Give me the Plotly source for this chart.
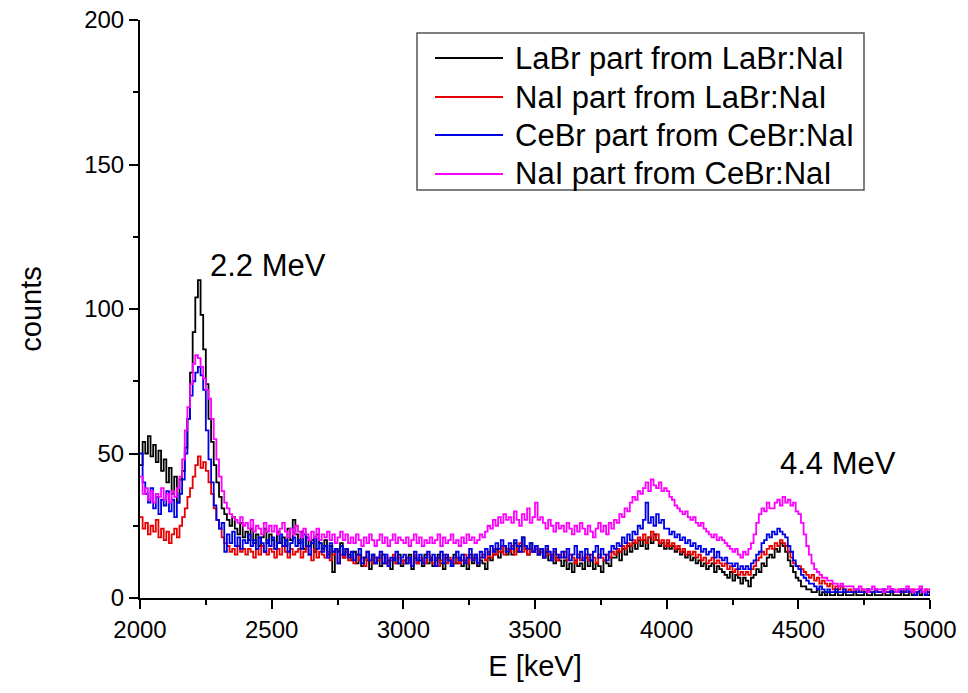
import plotly.graph_objects as go

# Energy bins (keV), 10 keV step
E_START, E_STEP = 2000, 10

labr_labrnai = [
    46, 54, 50, 56, 49, 53, 47, 51, 44, 48,
    40, 45, 36, 42, 33, 41, 44, 52, 62, 78,
    92, 104, 110, 98, 86, 74, 62, 54, 46, 40,
    35, 31, 29, 27, 25, 28, 24, 22, 26, 21,
    23, 20, 24, 19, 22, 18, 21, 24, 19, 22,
    20, 17, 23, 19, 21, 18, 24, 20, 27, 22,
    19, 23, 17, 21, 18, 20, 16, 22, 19, 17,
    20, 15, 18, 9, 17, 16, 19, 14, 17, 15,
    13, 16, 12, 15, 11, 14, 13, 10, 15, 12,
    14, 11, 15, 12, 13, 10, 14, 12, 15, 11,
    13, 12, 15, 10, 14, 12, 13, 11, 15, 12,
    14, 11, 13, 15, 12, 10, 14, 13, 11, 15,
    12, 14, 11, 13, 10, 15, 12, 14, 11, 13,
    12, 10, 14, 13, 15, 17, 14, 16, 18, 15,
    17, 15, 19, 16, 18, 21, 17, 15, 19, 16,
    18, 15, 17, 14, 16, 13, 15, 12, 14, 13,
    11, 13, 10, 12, 9, 13, 11, 12, 10, 14,
    11, 13, 10, 12, 11, 9, 13, 12, 11, 14,
    14, 16, 13, 17, 15, 18, 16, 19, 17, 20,
    18, 20, 17, 21, 19, 22, 20, 18, 19, 17,
    19, 17, 18, 16, 17, 15, 16, 14, 15, 13,
    14, 12, 13, 11, 12, 10, 11, 12, 9, 11,
    10, 9, 8, 7, 9, 6, 8, 7, 5, 7,
    6, 4, 7, 8, 10, 9, 12, 11, 14, 15,
    14, 17, 16, 19, 18, 16, 13, 11, 9, 7,
    6, 4, 4, 3, 3, 2, 2, 3, 1, 2,
    1, 2, 1, 1, 2, 1, 1, 2, 1, 1,
    1, 2, 1, 1, 1, 2, 1, 1, 2, 1,
    1, 1, 2, 1, 1, 2, 1, 1, 1, 2,
    1, 1, 2, 1, 1, 2, 1, 2, 1, 1,
    2,
]

nai_labrnai = [
    28, 24, 26, 22, 25, 23, 27, 21, 24, 20,
    23, 19, 22, 24, 21, 25, 28, 31, 35, 38,
    42, 46, 49, 45, 47, 44, 40, 36, 31, 27,
    24, 21, 19, 18, 16, 17, 15, 18, 16, 17,
    15, 17, 16, 14, 17, 15, 18, 16, 15, 17,
    16, 14, 17, 15, 18, 16, 14, 17, 15, 16,
    17, 14, 16, 18, 15, 13, 17, 14, 16, 15,
    14, 16, 13, 15, 17, 12, 15, 14, 16, 13,
    14, 12, 15, 13, 14, 11, 16, 13, 12, 14,
    13, 15, 12, 14, 11, 13, 15, 12, 14, 13,
    12, 14, 13, 11, 15, 12, 14, 13, 12, 15,
    13, 12, 14, 11, 13, 15, 12, 14, 13, 12,
    14, 12, 13, 15, 12, 14, 13, 15, 12, 14,
    15, 13, 16, 14, 17, 15, 16, 18, 15, 17,
    16, 18, 15, 17, 19, 16, 18, 15, 17, 16,
    17, 15, 16, 14, 17, 15, 14, 16, 13, 15,
    14, 16, 13, 15, 14, 12, 15, 13, 14, 15,
    13, 15, 14, 12, 15, 14, 13, 15, 14, 16,
    15, 17, 16, 18, 17, 19, 18, 20, 19, 21,
    20, 22, 19, 21, 23, 20, 22, 19, 20, 18,
    20, 18, 19, 17, 18, 16, 17, 15, 16, 15,
    16, 14, 15, 13, 14, 12, 13, 14, 12, 13,
    12, 11, 12, 10, 11, 9, 10, 8, 9, 8,
    9, 8, 10, 11, 13, 14, 16, 15, 17, 18,
    17, 19, 18, 20, 19, 18, 16, 14, 12, 11,
    11, 10, 9, 8, 7, 8, 6, 7, 5, 6,
    5, 4, 5, 3, 4, 3, 4, 3, 2, 3,
    2, 3, 2, 2, 3, 2, 3, 2, 2, 3,
    2, 2, 3, 2, 2, 3, 2, 2, 3, 2,
    3, 2, 2, 3, 2, 2, 3, 2, 3, 2,
    3,
]

cebr_cebrnai = [
    50, 40, 36, 33, 38, 31, 35, 29, 34, 32,
    37, 30, 34, 28, 33, 36, 41, 50, 62, 70,
    75, 78, 80, 77, 72, 58, 48, 40, 32, 27,
    24, 26, 16, 22, 19, 23, 18, 21, 17, 20,
    19, 22, 18, 20, 17, 21, 19, 16, 20, 18,
    21, 17, 19, 22, 18, 20, 16, 19, 21, 18,
    20, 17, 22, 18, 15, 19, 21, 17, 19, 16,
    18, 14, 19, 16, 17, 12, 18, 15, 17, 14,
    16, 13, 15, 17, 12, 14, 16, 13, 15, 12,
    14, 16, 12, 15, 11, 14, 13, 16, 12, 14,
    15, 12, 14, 11, 16, 13, 15, 12, 14, 16,
    13, 15, 11, 14, 16, 12, 15, 13, 11, 14,
    16, 13, 15, 12, 14, 17, 13, 15, 12, 16,
    14, 17, 15, 18, 16, 19, 17, 20, 18, 16,
    19, 17, 20, 18, 16, 21, 18, 17, 19, 16,
    18, 15, 17, 14, 18, 16, 13, 17, 15, 14,
    16, 14, 17, 13, 15, 18, 14, 16, 13, 17,
    15, 13, 16, 18, 14, 17, 15, 13, 16, 18,
    17, 19, 18, 21, 19, 22, 20, 23, 22, 25,
    24, 27, 33, 26, 28, 25, 29, 26, 27, 24,
    24, 22, 23, 21, 22, 20, 21, 19, 20, 18,
    19, 17, 18, 16, 17, 15, 16, 17, 14, 16,
    14, 13, 14, 12, 12, 11, 12, 10, 11, 10,
    11, 10, 12, 13, 15, 16, 19, 20, 22, 21,
    23, 22, 24, 23, 22, 21, 18, 16, 13, 11,
    10, 8, 7, 6, 5, 5, 4, 3, 4, 3,
    2, 3, 2, 2, 3, 2, 2, 3, 2, 2,
    2, 2, 3, 2, 2, 2, 3, 2, 2, 3,
    2, 2, 3, 2, 2, 3, 2, 2, 2, 3,
    2, 3, 2, 2, 1, 2, 3, 2, 1, 2,
    2,
]

nai_cebrnai = [
    42, 36, 38, 34, 37, 33, 36, 35, 38, 34,
    36, 33, 37, 35, 38, 42, 48, 58, 66, 74,
    81, 84, 83, 80, 76, 72, 69, 62, 55, 48,
    42, 37, 33, 31, 29, 28, 27, 26, 28, 25,
    26, 24, 27, 23, 25, 24, 22, 26, 23, 25,
    23, 25, 22, 24, 26, 23, 21, 24, 22, 25,
    23, 21, 24, 22, 20, 23, 21, 24, 20, 22,
    21, 23, 20, 22, 19, 21, 23, 20, 22, 19,
    21, 19, 22, 20, 18, 21, 19, 22, 20, 18,
    20, 22, 19, 21, 18, 20, 22, 19, 21, 20,
    19, 21, 18, 20, 22, 19, 21, 18, 20, 19,
    21, 19, 20, 22, 18, 21, 19, 20, 22, 19,
    20, 18, 21, 19, 22, 20, 21, 19, 20, 22,
    21, 23, 25, 24, 27, 25, 28, 26, 29, 27,
    28, 26, 30, 27, 25, 29, 27, 31, 26, 28,
    33, 27, 28, 26, 24, 27, 25, 23, 26, 24,
    25, 23, 26, 24, 22, 25, 23, 26, 24, 22,
    25, 23, 21, 24, 26, 23, 25, 22, 26, 24,
    27, 26, 29, 28, 31, 30, 33, 35, 34, 37,
    36, 38, 40, 37, 41, 39, 38, 40, 37, 38,
    37, 35, 34, 32, 31, 30, 29, 30, 28, 27,
    28, 26, 25, 26, 24, 23, 22, 21, 22, 20,
    21, 20, 19, 18, 17, 16, 17, 15, 14, 16,
    15, 17, 19, 22, 26, 29, 31, 30, 33, 31,
    31, 33, 34, 32, 35, 33, 34, 32, 33, 30,
    29, 26, 22, 18, 15, 12, 10, 9, 8, 7,
    7, 6, 6, 5, 5, 4, 5, 4, 4, 4,
    4, 3, 3, 4, 3, 3, 2, 3, 4, 3,
    3, 3, 2, 3, 4, 3, 3, 2, 3, 3,
    3, 4, 3, 2, 3, 3, 4, 2, 3, 3,
    3,
]

series_names = [
    "LaBr part from LaBr:NaI",
    "NaI part from LaBr:NaI",
    "CeBr part from CeBr:NaI",
    "NaI part from CeBr:NaI",
]
series_values = [labr_labrnai, nai_labrnai, cebr_cebrnai, nai_cebrnai]
series_colors = ["#000000", "#e60000", "#0000e6", "#ff00ff"]

x_tick_vals = [2000, 2500, 3000, 3500, 4000, 4500, 5000]
y_tick_vals = [0, 50, 100, 150, 200]

FONT = "Liberation Sans, Arial, sans-serif"
W, H = 968, 693
ML, MR, MT, MB = 140, 38, 20, 95
PW, PH = W - ML - MR, H - MT - MB


def px_x(p):
    return (p - ML) / PW


def px_y(p):
    return (H - MB - p) / PH


fig = go.Figure()
for name, vals, col in zip(series_names, series_values, series_colors):
    energies = [E_START + E_STEP * i for i in range(len(vals))]
    fig.add_trace(go.Scatter(
        x=energies, y=vals, mode="lines", name=name,
        line=dict(color=col, width=1.8, shape="hv"),
        showlegend=False,
    ))

axis_common = dict(
    showline=True, linecolor="black", linewidth=2,
    ticks="outside", ticklen=9, tickwidth=2, tickcolor="black",
    showgrid=False, zeroline=False, automargin=False,
    tickfont=dict(family=FONT, size=24, color="black"),
    mirror=False,
)

fig.update_xaxes(
    range=[2000, 5000], tickvals=x_tick_vals,
    minor=dict(ticks="outside", ticklen=5, tickwidth=2, tickcolor="black", dtick=250, tick0=2000),
    title=dict(text="E [keV]", font=dict(family=FONT, size=29, color="black"), standoff=14),
    **axis_common,
)
fig.update_yaxes(
    range=[0, 200], tickvals=y_tick_vals,
    minor=dict(ticks="outside", ticklen=5, tickwidth=2, tickcolor="black", dtick=25, tick0=0),
    title=dict(text="counts", font=dict(family=FONT, size=29, color="black"), standoff=34),
    **axis_common,
)

fig.add_annotation(x=2486, y=115, text="2.2 MeV", showarrow=False,
                   font=dict(family=FONT, size=31, color="black"))
fig.add_annotation(x=4651, y=46.5, text="4.4 MeV", showarrow=False,
                   font=dict(family=FONT, size=31, color="black"))

# Legend box (drawn to match the reference layout)
shapes = [dict(type="rect", xref="paper", yref="paper",
               x0=px_x(417), x1=px_x(864), y0=px_y(190), y1=px_y(33),
               line=dict(color="#555555", width=1.5), fillcolor="white", layer="above")]
row_y = [58, 97, 135, 174]
for name, col, ry in zip(series_names, series_colors, row_y):
    shapes.append(dict(type="line", xref="paper", yref="paper",
                       x0=px_x(435), x1=px_x(503), y0=px_y(ry), y1=px_y(ry),
                       line=dict(color=col, width=1.8), layer="above"))
    fig.add_annotation(xref="paper", yref="paper", x=px_x(513), y=px_y(ry),
                       xanchor="left", yanchor="middle", text=name, showarrow=False,
                       font=dict(family=FONT, size=31, color="black"))

fig.update_layout(
    width=W, height=H,
    margin=dict(l=ML, r=MR, t=MT, b=MB),
    paper_bgcolor="white", plot_bgcolor="white",
    showlegend=False,
    shapes=shapes,
)

fig.write_html("out.html", config={"displayModeBar": False},
               post_script="document.body.style.margin='0px';")
